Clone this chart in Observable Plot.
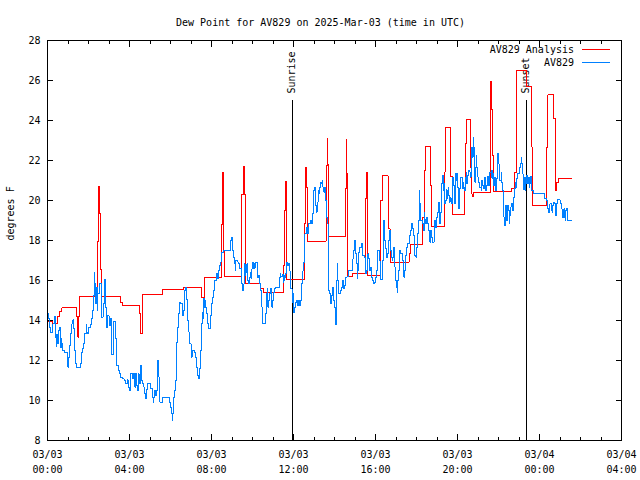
<!DOCTYPE html>
<html><head><meta charset="utf-8">
<script src="https://cdn.jsdelivr.net/npm/d3@7"></script>
<script src="https://cdn.jsdelivr.net/npm/@observablehq/plot@0.6"></script>
<style>
body{margin:0;background:#fff}
</style></head><body><div id="chart"></div>
<script>
// ---- data (time = hours after 2025-03-03 00:00 UTC) ----
const titleText = "Dew Point for AV829 on 2025-Mar-03 (time in UTC)";
const yLabel = "degrees F";
const seriesNames = ["AV829 Analysis", "AV829"];
const seriesColors = ["#ff0000", "#0080ff"];

const analysisHours = [0,0.26,0.50,0.59,0.70,1.43,1.48,1.53,1.57,2.46,2.50,2.55,2.58,2.63,3.57,3.66,4.47,4.55,4.64,5.61,6.62,7.52,7.60,7.65,8.50,8.53,8.57,8.58,8.63,9.45,9.48,9.56,9.61,9.64,9.68,10.38,10.54,11.52,11.57,11.60,11.64,11.65,12.55,12.58,12.63,12.66,12.69,13.59,13.64,13.67,13.69,13.72,14.54,14.57,14.60,14.65,14.87,15.52,15.57,15.60,16.25,16.33,16.61,16.71,17.64,17.72,18.29,18.37,18.42,18.67,18.73,19.35,19.40,19.68,19.76,20.33,20.38,20.43,20.63,20.68,20.71,20.76,21.60,21.62,21.67,21.70,21.74,22.62,22.78,22.87,22.90,23.35,23.63,23.66,24.33,24.36,24.41,24.68,24.78,24.81,24.93,25.55];
const analysisValues = [13.97,13.83,14.2,14.47,14.63,14.2,13.17,14.2,15.18,17.97,20.72,19.33,16.55,15.18,14.92,14.75,14.33,13.37,15.3,15.53,15.67,15.17,14.83,16.17,18.8,21.42,20.08,17.5,16.2,17.5,20.3,21.7,20.3,17.33,15.83,15.6,15.42,16.75,19.5,20.95,18.5,16.03,18.83,21.67,20.67,18.67,17.97,21.75,23.08,21.83,19.5,18.2,20.6,23.03,21.33,16.2,16.33,20.08,21.38,16.25,20.0,21.25,18.58,16.92,17.33,17.8,19.17,21.5,22.7,20.75,18.7,21.42,23.63,21.2,19.28,20.5,22.83,24.03,21.67,20.33,20.2,20.4,23.17,25.97,24.53,22.25,20.43,20.58,21.42,23.37,26.5,25.7,22.67,19.75,20.0,22.67,25.28,24.08,20.5,20.92,21.08,21.08];

const obsHours = [0.00,0.05,0.10,0.15,0.26,0.34,0.38,0.42,0.46,0.51,0.54,0.59,0.62,0.67,0.70,0.75,0.83,0.96,0.99,1.03,1.08,1.13,1.19,1.24,1.27,1.32,1.37,1.43,1.60,1.65,1.70,1.76,1.81,1.89,1.92,1.97,2.02,2.09,2.14,2.19,2.24,2.27,2.30,2.33,2.38,2.43,2.46,2.55,2.63,2.71,2.79,2.84,2.87,2.92,3.00,3.07,3.12,3.23,3.33,3.39,3.48,3.52,3.57,3.64,3.74,3.82,3.88,3.93,3.98,4.03,4.06,4.13,4.18,4.23,4.26,4.29,4.34,4.37,4.42,4.47,4.50,4.55,4.59,4.64,4.70,4.75,4.80,4.83,4.88,5.04,5.11,5.16,5.19,5.24,5.29,5.32,5.37,5.40,5.43,5.48,5.61,5.94,6.01,6.06,6.09,6.12,6.17,6.20,6.23,6.27,6.30,6.33,6.38,6.43,6.50,6.57,6.62,6.66,6.69,6.74,6.79,6.84,6.90,6.95,7.00,7.05,7.16,7.21,7.28,7.33,7.38,7.41,7.44,7.49,7.54,7.57,7.60,7.65,7.70,7.73,7.77,7.82,7.87,7.93,7.98,8.03,8.09,8.13,8.17,8.22,8.29,8.32,8.37,8.42,8.47,8.50,8.58,8.91,8.96,9.01,9.04,9.07,9.12,9.15,9.19,9.29,9.34,9.38,9.45,9.48,9.53,9.58,9.61,9.64,9.68,9.73,9.76,9.81,9.85,9.89,9.94,9.97,10.02,10.05,10.10,10.13,10.17,10.22,10.25,10.29,10.33,10.38,10.41,10.46,10.49,10.62,10.67,10.71,10.75,10.78,10.83,10.87,10.92,10.95,10.98,11.03,11.08,11.11,11.31,11.36,11.39,11.44,11.49,11.52,11.55,11.58,11.62,11.67,11.72,11.75,11.80,11.83,11.87,11.93,11.96,12.01,12.04,12.09,12.17,12.20,12.25,12.29,12.34,12.38,12.42,12.47,12.53,12.56,12.63,12.66,12.71,12.74,12.83,12.87,12.91,12.96,12.99,13.02,13.07,13.12,13.15,13.20,13.23,13.28,13.31,13.36,13.40,13.43,13.48,13.51,13.56,13.59,13.62,13.66,13.69,13.72,13.76,13.81,13.84,13.89,13.92,13.97,14.00,14.05,14.08,14.10,14.13,14.16,14.21,14.29,14.33,14.41,14.46,14.49,14.54,14.62,14.67,14.87,14.90,14.95,14.98,15.01,15.04,15.08,15.11,15.14,15.19,15.24,15.31,15.36,15.39,15.44,15.49,15.52,15.57,15.60,15.63,15.68,15.71,15.76,15.80,15.85,15.90,15.97,16.01,16.04,16.09,16.12,16.19,16.22,16.25,16.33,16.38,16.42,16.45,16.50,16.55,16.58,16.63,16.67,16.71,16.74,16.77,16.82,16.85,16.90,16.95,16.99,17.02,17.05,17.07,17.12,17.15,17.23,17.31,17.36,17.39,17.43,17.48,17.53,17.56,17.64,17.67,17.72,17.76,17.81,17.85,17.88,17.92,17.97,18.00,18.05,18.08,18.13,18.16,18.21,18.29,18.34,18.37,18.41,18.45,18.49,18.54,18.57,18.62,18.65,18.70,18.73,18.78,18.86,18.90,18.94,18.98,19.03,19.06,19.11,19.14,19.19,19.22,19.27,19.30,19.35,19.38,19.42,19.45,19.48,19.51,19.54,19.58,19.61,19.64,19.68,19.71,19.74,19.78,19.81,19.84,19.87,19.91,19.94,19.97,20.01,20.04,20.07,20.10,20.13,20.17,20.23,20.27,20.30,20.33,20.40,20.43,20.46,20.50,20.53,20.60,20.63,20.66,20.69,20.73,20.76,20.79,20.82,20.85,20.89,20.92,20.95,20.99,21.02,21.05,21.15,21.18,21.22,21.25,21.32,21.35,21.38,21.41,21.44,21.51,21.54,21.57,21.64,21.67,21.70,21.74,21.77,21.80,21.83,21.87,21.90,21.93,21.96,22.00,22.03,22.06,22.13,22.16,22.19,22.23,22.26,22.29,22.33,22.36,22.39,22.42,22.45,22.48,22.52,22.55,22.58,22.62,22.68,22.71,22.75,22.78,22.81,22.84,22.87,22.91,23.04,23.07,23.11,23.14,23.17,23.20,23.24,23.27,23.30,23.33,23.37,23.40,23.43,23.46,23.50,23.53,23.56,23.59,23.63,23.69,24.25,24.35,24.38,24.44,24.48,24.51,24.57,24.61,24.64,24.67,24.74,24.77,24.80,24.83,24.87,25.00,25.03,25.07,25.10,25.13,25.16,25.19,25.23,25.26,25.29,25.32,25.36,25.39,25.55];
const obsValues = [14.33,14.08,13.67,13.42,13.83,14.2,13.17,12.7,13.3,12.83,13.5,13.67,12.67,13.08,12.83,12.5,12.42,12.08,11.67,12.17,12.75,13.33,13.83,14.03,13.58,12.5,11.87,11.63,11.87,12.42,12.58,12.83,13.33,13.8,13.42,13.33,13.67,13.8,14.08,14.5,15.25,16.42,15.83,14.83,15.67,14.5,15.33,15.83,14.17,14.83,16.03,14.67,13.67,14.25,13.75,14.08,12.28,13.97,13.08,11.75,11.5,11.33,11.17,11.08,11.0,10.83,11.03,10.67,10.5,11.0,11.37,11.08,11.37,10.92,10.67,11.33,10.75,10.5,11.33,11.08,10.83,11.75,11.0,10.83,10.67,10.33,10.08,10.53,10.83,10.58,10.17,9.92,10.17,10.5,10.25,10.5,12.0,11.42,11.17,9.92,10.17,9.92,9.67,9.33,9.0,9.33,10.17,10.5,11.0,11.83,12.92,13.67,14.33,14.92,14.83,14.25,14.5,15.17,15.5,15.67,15.03,14.0,13.42,12.83,12.17,12.5,12.42,12.17,11.67,11.25,11.08,11.58,12.5,13.83,14.42,14.08,15.08,14.67,15.0,14.67,14.33,13.83,13.58,14.25,14.83,15.17,15.5,15.75,16.0,16.33,16.08,16.5,16.75,16.92,17.17,17.42,17.5,18.0,18.17,17.92,17.5,17.17,16.83,16.5,17.0,16.92,16.83,16.58,16.25,15.83,15.5,15.83,16.83,16.25,16.42,16.83,16.0,15.83,16.17,16.42,16.08,16.58,16.92,16.58,16.83,16.67,16.92,16.58,16.17,16.25,15.83,15.75,15.5,14.67,13.83,14.33,15.33,15.58,14.67,15.0,15.37,15.58,15.25,14.67,15.0,15.42,15.58,15.67,16.17,16.33,16.2,16.3,15.92,16.25,16.0,16.17,16.37,16.92,16.75,16.83,16.5,16.08,15.58,14.92,15.33,14.42,14.67,14.92,15.0,14.75,15.0,14.75,15.0,15.83,16.47,16.92,17.17,18.33,18.67,18.33,18.5,18.83,19.0,18.83,19.33,20.17,20.5,20.67,19.75,19.42,19.92,20.5,20.33,20.67,20.92,20.83,21.0,20.67,20.42,20.67,20.0,19.5,19.17,18.83,16.67,15.5,15.33,14.83,15.25,15.42,15.67,15.0,14.67,13.78,14.67,16.0,16.83,16.0,15.33,15.5,15.67,16.0,15.58,15.75,16.17,16.2,16.5,16.67,17.08,17.5,18.0,17.67,17.33,16.83,16.08,16.5,17.42,17.67,17.83,17.67,17.25,17.17,16.67,16.33,16.5,17.0,17.33,17.08,16.5,16.67,16.17,16.0,15.83,15.92,16.17,16.5,17.0,17.5,17.0,16.17,16.03,17.0,19.0,18.5,18.0,17.58,17.17,17.33,18.0,18.5,18.33,17.5,17.17,17.0,17.17,17.67,16.67,16.0,15.67,15.42,16.0,16.5,17.5,17.33,17.0,16.67,16.17,16.5,17.25,17.67,17.83,18.08,18.25,18.5,18.83,18.58,18.25,17.83,17.25,17.17,17.67,18.33,19.0,20.5,19.83,19.0,18.83,18.5,19.42,19.03,18.87,19.17,18.83,18.5,18.17,17.92,18.5,18.17,17.92,18.5,19.0,18.67,19.17,19.42,19.92,19.5,18.83,19.42,20.83,21.25,20.5,20.83,19.83,20.0,20.53,20.08,20.5,20.67,20.25,19.92,20.17,20.08,19.83,20.5,21.17,20.75,20.25,19.83,21.33,21.0,21.33,20.67,20.17,19.58,20.58,21.0,21.17,20.58,20.92,20.67,20.5,21.17,21.42,20.83,21.25,21.5,21.42,21.17,22.17,22.67,22.17,23.17,22.67,21.83,20.92,21.67,22.25,21.67,21.17,20.92,20.67,20.5,21.0,20.75,20.58,21.17,20.83,20.5,20.75,21.2,20.75,21.33,21.42,21.17,21.5,21.08,21.33,20.75,21.17,20.67,20.5,21.08,21.83,22.33,21.83,21.33,21.0,21.42,20.92,20.5,20.0,19.17,18.75,19.5,19.75,19.0,19.67,19.75,19.5,18.83,19.25,19.67,19.83,19.5,19.75,20.17,20.58,20.92,20.67,21.08,21.33,21.67,21.87,22.17,21.83,21.33,20.67,20.53,21.17,20.5,20.83,21.25,21.0,20.83,21.17,20.67,20.83,21.2,21.0,20.5,20.33,20.08,20.0,19.58,19.42,19.67,19.83,19.5,19.42,19.75,19.92,19.83,19.42,19.25,19.83,20.03,20.0,19.83,19.58,19.5,19.17,19.5,19.58,19.17,19.0,19.5,19.58,19.25,19.0,19.0];

const eventNames = ["Sunrise", "Sunset"];
const eventHours = [11.93, 23.35];
const eventTops = [25, 25];

const xTickHours = [0, 4, 8, 12, 16, 20, 24, 28];
const xMinorHours = [1,2,3,5,6,7,9,10,11,13,14,15,17,18,19,21,22,23,25,26,27];
const yTicks = [8, 10, 12, 14, 16, 18, 20, 22, 24, 26, 28];
const xDomainHours = [0, 28];
const yDomain = [8, 28];

// ---- build ----
const T0 = Date.UTC(2025, 2, 3);
const toDate = h => new Date(T0 + h * 3600e3);
const analysis = analysisHours.map((h, i) => ({t: toDate(h), v: analysisValues[i]}));
const obs = obsHours.map((h, i) => ({t: toDate(h), v: obsValues[i]}));
const events = eventNames.map((n, i) => ({name: n, t: toDate(eventHours[i]), top: eventTops[i]}));
const xMajor = xTickHours.map(toDate);
const xMinor = xMinorHours.map(toDate);
const fmt = d3.utcFormat("%m/%d\n%H:%M");
const crisp = {shapeRendering: "crispEdges"};

const chart = Plot.plot({
  width: 640, height: 480,
  marginLeft: 47, marginRight: 19, marginTop: 40, marginBottom: 40,
  style: {fontFamily: "'DejaVu Sans Mono', monospace", fontSize: "10px", background: "#fff", color: "#000"},
  x: {type: "utc", domain: xDomainHours.map(toDate)},
  y: {domain: yDomain},
  marks: [
    Plot.axisX(xMajor, {anchor: "bottom", tickSize: -6, fill: "none", label: null, ...crisp}),
    Plot.axisX(xMajor, {anchor: "top", tickSize: -6, fill: "none", label: null, ...crisp}),
    Plot.axisX(xMinor, {anchor: "bottom", tickSize: -3, fill: "none", label: null, ...crisp}),
    Plot.axisX(xMinor, {anchor: "top", tickSize: -3, fill: "none", label: null, ...crisp}),
    Plot.axisY(yTicks, {anchor: "left", tickSize: -6, fill: "none", label: null, ...crisp}),
    Plot.axisY(yTicks, {anchor: "right", tickSize: -6, fill: "none", label: null, ...crisp}),
    Plot.axisX(xMajor, {anchor: "bottom", tickSize: 0, tickPadding: 7, tickFormat: fmt, lineHeight: 1.5, label: null}),
    Plot.axisY(yTicks, {anchor: "left", tickSize: 0, tickPadding: 7, label: null}),
    Plot.ruleX(events, {x: "t", y1: yDomain[0], y2: "top", stroke: "#000", strokeWidth: 1, ...crisp}),
    Plot.text(events, {x: "t", y: "top", text: "name", rotate: -90, textAnchor: "start", dy: -7, fill: "#000"}),
    Plot.line(analysis, {x: "t", y: "v", curve: "step-after", stroke: seriesColors[0], strokeWidth: 1, ...crisp}),
    Plot.line(obs, {x: "t", y: "v", curve: "step-after", stroke: seriesColors[1], strokeWidth: 1, ...crisp}),
    Plot.frame({stroke: "#000", ...crisp}),
    Plot.text([titleText], {frameAnchor: "top", dy: -22, dx: -14, fill: "#000"}),
    Plot.text([yLabel], {frameAnchor: "left", dx: -37, rotate: -90, fill: "#000"})
  ]
});

// legend (top right, inside plot)
const svg = d3.select(chart);
const lg = svg.append("g").attr("font-family", "'DejaVu Sans Mono', monospace").attr("font-size", 10);
seriesNames.forEach((name, i) => {
  const y = 49.5 + i * 13;
  lg.append("text").attr("x", 574).attr("y", y).attr("dy", "0.32em").attr("text-anchor", "end").attr("fill", "#000").text(name);
  lg.append("line").attr("x1", 582).attr("x2", 610).attr("y1", y).attr("y2", y)
    .attr("stroke", seriesColors[i]).attr("stroke-width", 1).attr("shape-rendering", "crispEdges");
});

document.getElementById("chart").append(chart);
</script></body></html>
